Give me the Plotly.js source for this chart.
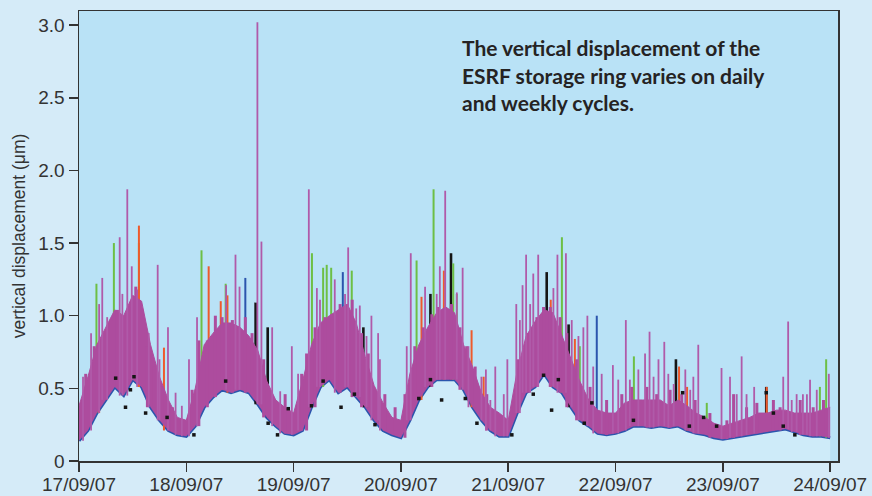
<!DOCTYPE html>
<html>
<head>
<meta charset="utf-8">
<script src="https://cdn.plot.ly/plotly-3.0.1.min.js"></script>
<style>
html,body{margin:0;padding:0;background:#d5ebf8;}
#chart{width:872px;height:496px;}
</style>
</head>
<body>
<div id="chart"></div>
<script>
// ---- Data (hours since 17/09/07 00:00) ----
const dayTickDates = ['2007-09-17','2007-09-18','2007-09-19','2007-09-20','2007-09-21','2007-09-22','2007-09-23','2007-09-24'];
const dayTickLabels = ['17/09/07','18/09/07','19/09/07','20/09/07','21/09/07','22/09/07','23/09/07','24/09/07'];
const yTickVals = [0, 0.5, 1.0, 1.5, 2.0, 2.5, 3.0];
const yTickLabels = ['0', '0.5', '1.0', '1.5', '2.0', '2.5', '3.0'];

// sampled every 2 hours
const bandHours = [0,2,4,6,8,10,12,14,16,18,20,22,24,26,28,30,32,34,36,38,40,42,44,46,48,50,52,54,56,58,60,62,64,66,68,70,72,74,76,78,80,82,84,86,88,90,92,94,96,98,100,102,104,106,108,110,112,114,116,118,120,122,124,126,128,130,132,134,136,138,140,142,144,146,148,150,152,154,156,158,160,162,164,166,168];
// lower edge of the dense band
const bandLow = [0.14,0.21,0.33,0.42,0.51,0.45,0.56,0.51,0.37,0.28,0.21,0.18,0.17,0.24,0.37,0.44,0.49,0.47,0.49,0.47,0.39,0.30,0.24,0.19,0.18,0.21,0.37,0.51,0.56,0.47,0.51,0.44,0.37,0.28,0.21,0.18,0.16,0.28,0.42,0.51,0.56,0.56,0.56,0.49,0.37,0.28,0.21,0.17,0.17,0.33,0.47,0.51,0.60,0.51,0.47,0.37,0.28,0.24,0.19,0.18,0.19,0.21,0.24,0.24,0.23,0.24,0.23,0.24,0.21,0.19,0.18,0.16,0.15,0.16,0.17,0.18,0.19,0.20,0.21,0.22,0.20,0.18,0.17,0.17,0.16];
// upper edge of the dense band
const bandHigh = [0.38,0.58,0.80,0.92,1.04,1.00,1.14,1.10,0.80,0.58,0.42,0.30,0.28,0.50,0.80,0.88,0.95,0.95,0.92,0.86,0.76,0.55,0.42,0.37,0.33,0.55,0.80,0.95,1.00,1.04,1.08,0.95,0.72,0.52,0.40,0.30,0.28,0.60,0.80,0.92,1.02,1.06,1.02,0.80,0.65,0.47,0.37,0.33,0.28,0.62,0.86,0.96,1.04,1.02,0.86,0.70,0.55,0.42,0.35,0.33,0.33,0.40,0.42,0.42,0.42,0.42,0.38,0.42,0.38,0.33,0.30,0.26,0.24,0.26,0.28,0.30,0.33,0.33,0.35,0.35,0.33,0.33,0.33,0.35,0.37];

// tall spikes: hour and peak value
const magentaSpikeHours = [0.9,2.7,4.5,5.2,6.3,9.1,9.7,10.8,11.8,13.0,15.6,17.6,18.0,19.9,21.6,23.0,24.6,26.4,32.9,35.0,35.9,39.9,40.8,43.2,45.0,47.6,49.0,51.4,53.2,53.9,57.2,59.5,60.2,62.0,62.8,64.3,65.4,66.9,67.3,73.3,74.2,77.4,80.0,80.7,81.9,84.5,85.8,87.1,90.0,91.0,92.0,93.1,95.0,95.8,97.8,98.6,99.2,100.0,100.9,101.6,102.7,106.1,107.0,108.9,110.2,111.7,112.8,113.7,115.0,116.9,119.4,120.6,122.3,123.2,125.1,126.6,127.6,128.5,129.6,130.9,131.8,133.0,135.6,136.7,137.4,138.5,143.7,145.6,147.1,148.2,149.3,151.0,157.5,158.6,159.4,160.5,161.9,162.8,163.5,165.0,167.7];
const magentaSpikeTops  = [0.58,0.88,1.08,1.26,0.99,1.54,1.15,1.87,1.34,1.18,0.88,1.35,0.70,0.92,0.47,0.38,0.70,0.99,1.21,1.42,1.20,3.02,1.51,0.92,0.48,0.79,0.60,1.87,1.19,1.11,1.25,1.15,1.47,1.05,1.07,0.86,1.00,0.88,0.70,0.79,1.43,1.20,1.15,1.34,1.86,1.16,1.33,0.79,0.58,0.63,0.42,0.65,0.46,0.70,1.08,0.97,1.21,1.42,1.08,1.29,1.42,1.19,1.42,1.43,0.97,0.86,0.92,1.00,0.65,0.60,0.66,0.56,0.97,0.56,0.63,0.74,0.89,0.58,0.70,0.82,0.60,0.53,0.63,0.49,0.58,0.80,0.64,0.58,0.46,0.72,0.46,0.51,0.58,0.96,0.42,0.46,0.46,0.46,0.56,0.49,0.60];
// short spikes giving the ragged top of the band
const magentaShortHours = [1.5,3.4,7.1,8.6,11.2,12.7,14.2,15.3,16.8,18.6,20.9,25.3,26.8,28.7,30.5,32.0,34.3,37.2,38.7,41.3,46.1,49.8,50.9,52.8,55.0,56.5,58.4,61.1,63.2,64.7,68.4,70.7,72.9,75.1,77.0,78.9,80.3,83.3,85.2,86.7,88.6,91.2,97.2,98.3,100.5,102.4,103.9,105.4,107.6,109.1,111.3,114.3,118.0,121.4,123.6,127.0,129.2,132.2,134.8,137.8,141.1,144.9,146.4,149.3,151.6,155.3,156.8,161.3,164.2,166.5];
const magentaShortTops  = [0.60,0.79,0.97,1.04,1.06,1.20,1.04,0.79,0.65,0.51,0.37,0.49,0.83,0.83,1.00,0.99,0.97,0.99,0.88,0.70,0.46,0.60,0.74,0.92,0.99,1.01,1.08,1.11,0.88,0.74,0.46,0.37,0.46,0.79,0.92,1.01,1.06,1.08,0.92,0.79,0.65,0.46,0.42,0.70,0.88,0.99,1.06,1.06,0.99,0.88,0.70,0.51,0.42,0.46,0.51,0.51,0.46,0.49,0.46,0.42,0.33,0.28,0.46,0.37,0.40,0.42,0.37,0.42,0.37,0.42];
const greenSpikeHours = [3.9,7.8,13.4,27.4,32.8,52.1,54.6,55.4,56.4,61.0,75.5,79.3,83.7,84.5,108.0,112.0,124.1,140.4,165.7,167.1];
const greenSpikeTops  = [1.22,1.50,1.50,1.45,1.22,1.43,1.33,1.35,1.33,1.31,1.38,1.87,1.36,1.15,1.54,0.79,0.72,0.40,0.51,0.70];
const redSpikeHours = [4.5,13.4,19.0,29.0,31.7,33.2,76.6,81.6,87.8,90.5,105.5,110.9,134.2,136.0,153.8];
const redSpikeTops  = [0.81,1.62,0.78,1.34,1.10,1.14,1.13,1.31,0.90,0.58,1.11,0.84,0.65,0.51,0.51];
const blueSpikeHours = [37.2,59.0,115.8];
const blueSpikeTops  = [1.26,1.30,1.00];
const blackSpikeHours = [39.5,42.2,56.9,63.6,78.6,83.2,104.6,109.5,133.5,153.7];
const blackSpikeTops  = [1.09,0.92,0.98,0.92,1.15,1.43,1.30,0.94,0.70,0.51];
// black points along the lower edge
const blackDotHours = [8.2,10.4,11.5,12.3,14.9,19.7,25.7,32.8,42.3,44.4,46.8,52.0,54.6,58.6,61.6,66.2,76.0,78.6,81.1,86.4,89.0,96.8,101.6,103.9,105.7,107.2,113.0,114.7,124.0,135.0,136.5,139.7,142.6,153.7,155.3,157.5,160.1];
const blackDotVals  = [0.57,0.37,0.49,0.58,0.33,0.30,0.18,0.55,0.26,0.18,0.36,0.38,0.55,0.37,0.46,0.25,0.43,0.56,0.42,0.43,0.26,0.18,0.46,0.59,0.35,0.56,0.26,0.40,0.28,0.47,0.24,0.30,0.24,0.47,0.33,0.24,0.18];

// ---- helpers ----
const START = Date.UTC(2007, 8, 17);
function t(h){ return new Date(START + h*3600000).toISOString().slice(0,19).replace('T',' '); }
function baseAt(h){ return bandLow[Math.min(bandLow.length-1, Math.round(h/2))]; }
function spikeTrace(hours, tops, color, width){
  const x=[], y=[];
  hours.forEach((h,i)=>{ x.push(t(h), t(h), null); y.push(baseAt(h), tops[i], null); });
  return {type:'scatter', mode:'lines', x:x, y:y, line:{color:color, width:width}, hoverinfo:'skip', showlegend:false};
}
const bx = bandHours.map(t);
const MAG = '#ad4c9e';

const traces = [
  // lighter region under the data
  {type:'scatter', mode:'lines', x:bx, y:bandLow, fill:'tozeroy', fillcolor:'rgba(214,237,249,0.75)', line:{width:0}, hoverinfo:'skip', showlegend:false},
  // blue lower edge
  {type:'scatter', mode:'lines', x:bx, y:bandLow, line:{color:'#2b55ad', width:3}, hoverinfo:'skip', showlegend:false},
  spikeTrace(blackSpikeHours, blackSpikeTops, '#151515', 2.6),
  spikeTrace(blueSpikeHours, blueSpikeTops, '#2b55ad', 2),
  spikeTrace(greenSpikeHours, greenSpikeTops, '#6dbf45', 2),
  spikeTrace(redSpikeHours, redSpikeTops, '#ee5a2c', 2),
  // dense band
  {type:'scatter', mode:'lines', x:bx, y:bandLow, line:{width:0, color:MAG}, hoverinfo:'skip', showlegend:false},
  {type:'scatter', mode:'lines', x:bx, y:bandHigh, fill:'tonexty', fillcolor:MAG, line:{width:1, color:MAG}, hoverinfo:'skip', showlegend:false},
  spikeTrace(magentaShortHours, magentaShortTops, MAG, 3),
  spikeTrace(magentaSpikeHours, magentaSpikeTops, '#b05aa9', 1.8),
  {type:'scatter', mode:'markers', x:blackDotHours.map(t), y:blackDotVals, marker:{color:'#151515', size:3.5, symbol:'square'}, hoverinfo:'skip', showlegend:false}
];

const tickFont = {family:'"Liberation Sans", Arial, sans-serif', size:19, color:'#333'};
const noteFont = {family:'Lato, "Open Sans", sans-serif', size:21, color:'#252323'};
const layout = {
  width:872, height:496,
  margin:{l:79, r:34, t:11, b:35},
  paper_bgcolor:'#d5ebf8',
  plot_bgcolor:'#b9e2f6',
  showlegend:false,
  xaxis:{
    type:'date', range:[t(0), t(169.75)],
    tickvals:dayTickDates, ticktext:dayTickLabels,
    ticks:'outside', ticklen:9, tickwidth:1.5, tickcolor:'#333',
    ticklabelstandoff:-3,
    showline:true, linecolor:'#333', linewidth:1.5, mirror:true,
    showgrid:false, zeroline:false, tickfont:tickFont
  },
  yaxis:{
    range:[0, 3.097],
    tickvals:yTickVals, ticktext:yTickLabels,
    ticks:'outside', ticklen:9, tickwidth:1.5, tickcolor:'#333',
    showline:true, linecolor:'#333', linewidth:1.5, mirror:true,
    showgrid:false, zeroline:false, tickfont:tickFont,
    title:{text:'vertical displacement (μm)', font:{family:'"Liberation Sans", Arial, sans-serif', size:17.5, color:'#333'}, standoff:8}
  },
  annotations:[
    {xref:'paper', yref:'paper', x:0.502, y:0.919, xanchor:'left', yanchor:'middle', showarrow:false, text:'<b>The vertical displacement of the</b>', font:noteFont},
    {xref:'paper', yref:'paper', x:0.502, y:0.856, xanchor:'left', yanchor:'middle', showarrow:false, text:'<b>ESRF storage ring varies on daily</b>', font:noteFont},
    {xref:'paper', yref:'paper', x:0.502, y:0.797, xanchor:'left', yanchor:'middle', showarrow:false, text:'<b>and weekly cycles.</b>', font:noteFont}
  ]
};
Plotly.newPlot('chart', traces, layout, {staticPlot:true, displayModeBar:false});
</script>
</body>
</html>
